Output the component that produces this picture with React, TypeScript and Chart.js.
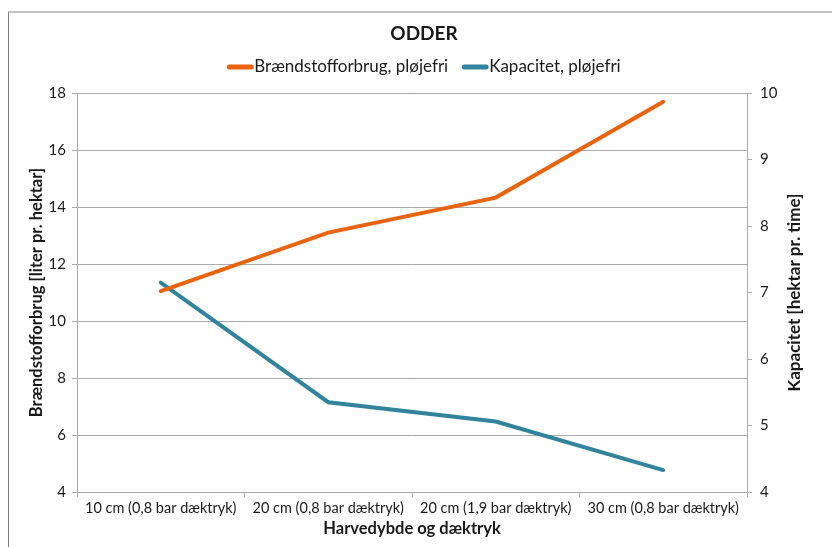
import React, { useEffect, useRef } from "react";
import { Chart, registerables } from "chart.js";

Chart.register(...registerables);

const categories = [
  "10 cm (0,8 bar dæktryk)",
  "20 cm (0,8 bar dæktryk)",
  "20 cm (1,9 bar dæktryk)",
  "30 cm (0,8 bar dæktryk)",
];
const braendstof = [11.05, 13.1, 14.33, 17.69];
const kapacitet = [7.15, 5.35, 5.06, 4.33];
const seriesNames = ["Brændstofforbrug, pløjefri", "Kapacitet, pløjefri"];
const chartTitle = "ODDER";
const rightTitle = "Kapacitet [hektar pr. time]";

const FONT = "Lato, 'Open Sans', sans-serif";
const ORANGE = "#E8640F";
const TEAL = "#31849B";
const GRID = "#ababab";
const TEXT = "#1a1a1a";

const decorPlugin = {
  id: "decor",
  afterDraw(chart: any) {
    const { ctx, chartArea } = chart;
    const cx = 415;
    ctx.save();
    // title
    ctx.font = `bold 19px ${FONT}`;
    ctx.fillStyle = TEXT;
    ctx.textAlign = "center";
    ctx.textBaseline = "middle";
    ctx.fillText(chartTitle, cx, 21);
    // legend
    ctx.font = `17px ${FONT}`;
    const lineW = 26;
    const gap1 = 1;
    const gapItems = 14;
    const items = chart.data.datasets.map((d: any) => ({
      label: d.label,
      color: d.borderColor,
      w: ctx.measureText(d.label).width,
    }));
    const total =
      items.reduce((s: number, it: any) => s + lineW + gap1 + it.w, 0) +
      gapItems * (items.length - 1);
    let x = cx - total / 2;
    const ly = 54;
    ctx.textAlign = "left";
    for (const it of items) {
      ctx.strokeStyle = it.color;
      ctx.lineWidth = 5;
      ctx.lineCap = "round";
      ctx.beginPath();
      ctx.moveTo(x + 2, ly);
      ctx.lineTo(x + lineW - 2, ly);
      ctx.stroke();
      ctx.fillStyle = TEXT;
      ctx.fillText(it.label, x + lineW + gap1, ly);
      x += lineW + gap1 + it.w + gapItems;
    }
    // right axis title
    ctx.translate(786, (chartArea.top + chartArea.bottom) / 2);
    ctx.rotate(-Math.PI / 2);
    ctx.font = `bold 17px ${FONT}`;
    ctx.textAlign = "center";
    ctx.fillText(rightTitle, 0, 0);
    ctx.restore();
  },
};

export default function App() {
  const ref = useRef<HTMLCanvasElement>(null);
  useEffect(() => {
    if (!ref.current) return;
    const chart = new Chart(ref.current, {
      type: "line",
      data: {
        labels: categories,
        datasets: [
          {
            label: seriesNames[0],
            data: braendstof,
            borderColor: ORANGE,
            backgroundColor: ORANGE,
            borderWidth: 4,
            pointRadius: 0,
            yAxisID: "y",
            borderCapStyle: "round",
          },
          {
            label: seriesNames[1],
            data: kapacitet,
            borderColor: TEAL,
            backgroundColor: TEAL,
            borderWidth: 4,
            pointRadius: 0,
            yAxisID: "y1",
            borderCapStyle: "round",
          },
        ],
      },
      plugins: [decorPlugin],
      options: {
        responsive: false,
        animation: false,
        layout: { padding: { top: 80, left: 0, right: 0, bottom: 0 } },
        plugins: {
          title: { display: false },
          legend: { display: false },
          tooltip: { enabled: false },
        },
        scales: {
          x: {
            offset: true,
            grid: {
              offset: true,
              drawOnChartArea: false,
              drawTicks: true,
              tickLength: 5,
              color: GRID,
            },
            border: { color: GRID },
            ticks: {
              color: TEXT,
              font: { family: FONT, size: 14.5 },
              padding: 3,
              maxRotation: 0,
              autoSkip: false,
            },
            title: {
              display: true,
              text: "Harvedybde og dæktryk",
              color: TEXT,
              font: { family: FONT, size: 16.5, weight: "bold" },
              padding: { top: 0, bottom: 8 },
            },
            afterFit: (s: any) => {
              s.height = 55;
            },
          },
          y: {
            position: "left",
            min: 4,
            max: 18,
            ticks: {
              stepSize: 2,
              color: TEXT,
              font: { family: FONT, size: 15 },
              padding: 6,
            },
            grid: { color: GRID, tickLength: 5 },
            border: { color: GRID },
            title: {
              display: true,
              text: "Brændstofforbrug [liter pr. hektar]",
              color: TEXT,
              font: { family: FONT, size: 16.5, weight: "bold" },
              padding: { top: 18, bottom: 0 },
            },
            afterFit: (s: any) => {
              s.width = 68;
            },
          },
          y1: {
            position: "right",
            min: 4,
            max: 10,
            ticks: {
              stepSize: 1,
              color: TEXT,
              font: { family: FONT, size: 15 },
              padding: 8,
            },
            grid: { drawOnChartArea: false, color: GRID, tickLength: 5 },
            border: { color: GRID },
            title: { display: false },
            afterFit: (s: any) => {
              s.width = 85;
            },
          },
        },
      },
    });
    return () => chart.destroy();
  }, []);
  return (
    <div
      style={{
        position: "absolute",
        left: 8,
        top: 11,
        width: 824,
        height: 536,
        borderTop: "2px solid #c4c4c4",
        borderLeft: "1px solid #7f7f7f",
        background: "#fff",
      }}
    >
      <canvas ref={ref} width={823} height={534} style={{ display: "block" }} />
    </div>
  );
}
